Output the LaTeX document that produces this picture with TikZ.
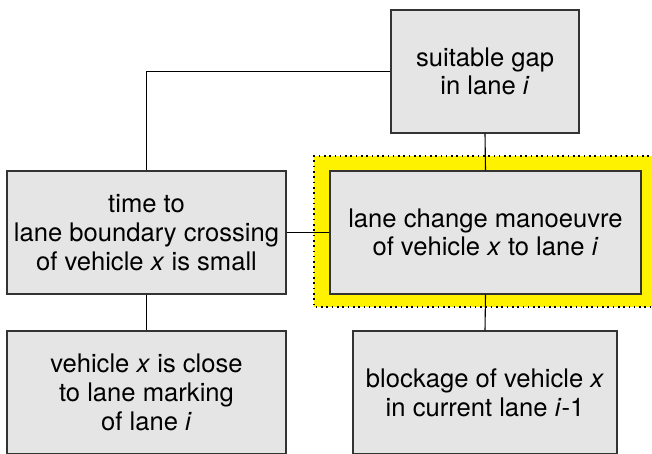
\documentclass[tikz,border=0pt]{standalone}
\usepackage{fontspec}
\setmainfont{TeX Gyre Heros}
\begin{document}
\begin{tikzpicture}[x=1pt,y=-1pt,
  box/.style={draw=black!80, line width=1.1pt, fill=black!10, inner sep=0pt,
    minimum height=123pt, align=center,
    font=\fontsize{25.6}{28.7}\selectfont},
  conn/.style={draw=black, line width=1.1pt}]
\useasboundingbox (0,0) rectangle (652,453);
\clip (0,0) rectangle (652,453);
% highlight
\fill[yellow] (314,156) rectangle (670,307);
\draw[line width=1.6pt, dash pattern=on 1.6pt off 3.7pt] (670,156) -- (314,156) -- (314,307) -- (670,307);
% nodes
\node[box, minimum width=188pt] (gap) at (485,71.5) {suitable gap\\in lane \textit{i}};
\node[box, minimum width=279pt] (time) at (146.5,232.5) {time to\\lane boundary crossing\\of vehicle \textit{x} is small};
\node[box, minimum width=311pt] (lc) at (485.5,232.5) {lane change manoeuvre\\of vehicle \textit{x} to lane \textit{i}};
\node[box, minimum width=279pt] (veh) at (146.5,392.5) {vehicle \textit{x} is close\\to lane marking\\of lane \textit{i}};
\node[box, minimum width=264pt] (blk) at (485,392.5) {blockage of vehicle \textit{x}\\in current lane \textit{i}-1};
% connectors
\draw[conn] (gap.west) -| (time.north);
\draw[conn] (gap.south) -- (lc.north);
\draw[conn] (time.east) -- (lc.west);
\draw[conn] (time.south) -- (veh.north);
\draw[conn] (lc.south) -- (blk.north);
\end{tikzpicture}
\end{document}
